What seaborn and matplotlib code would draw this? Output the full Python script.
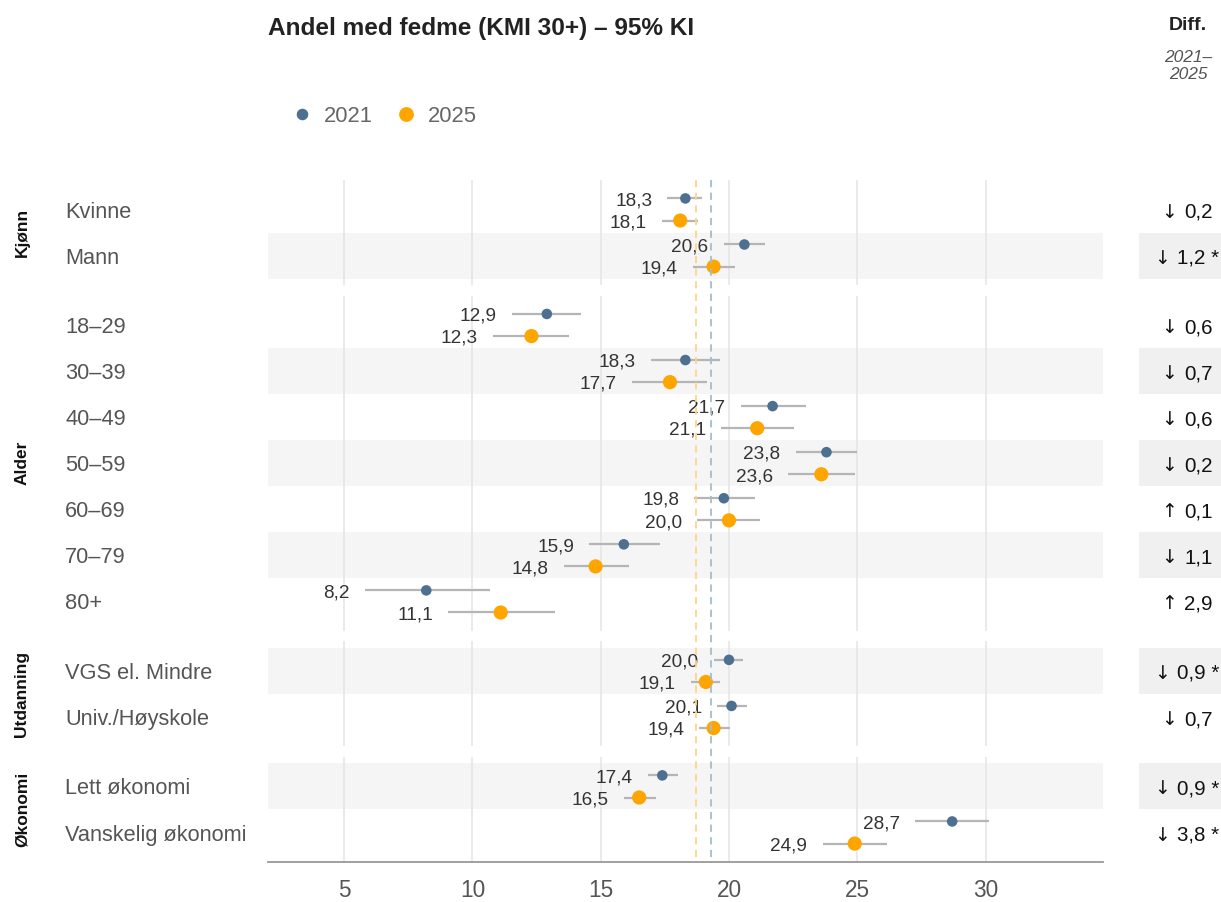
import numpy as np
import pandas as pd
import matplotlib
matplotlib.use("Agg")
import matplotlib.pyplot as plt
import matplotlib.transforms as mtransforms
from matplotlib.lines import Line2D
from matplotlib.patches import Rectangle
import seaborn as sns

# data
groups = ["Kjønn", "Alder", "Utdanning", "Økonomi"]
group_sizes = [2, 7, 2, 2]
categories = ["Kvinne", "Mann",
              "18–29", "30–39", "40–49", "50–59", "60–69", "70–79", "80+",
              "VGS el. Mindre", "Univ./Høyskole",
              "Lett økonomi", "Vanskelig økonomi"]

est_2021 = [18.3, 20.6, 12.9, 18.3, 21.7, 23.8, 19.8, 15.9, 8.2, 20.0, 20.1, 17.4, 28.7]
lo_2021 = [17.6, 19.8, 11.55, 16.95, 20.45, 22.6, 18.65, 14.55, 5.8, 19.4, 19.55, 16.85, 27.25]
hi_2021 = [18.95, 21.4, 14.25, 19.65, 23.0, 25.0, 21.0, 17.3, 10.7, 20.55, 20.7, 18.0, 30.15]

est_2025 = [18.1, 19.4, 12.3, 17.7, 21.1, 23.6, 20.0, 14.8, 11.1, 19.1, 19.4, 16.5, 24.9]
lo_2025 = [17.4, 18.6, 10.8, 16.2, 19.7, 22.3, 18.75, 13.55, 9.05, 18.5, 18.85, 15.9, 23.65]
hi_2025 = [18.8, 20.25, 13.75, 19.15, 22.55, 24.9, 21.2, 16.1, 13.2, 19.65, 20.05, 17.15, 26.15]

diff = [-0.2, -1.2, -0.6, -0.7, -0.6, -0.2, 0.1, -1.1, 2.9, -0.9, -0.7, -0.9, -3.8]
significant = [False, True, False, False, False, False, False, False, False, True, False, True, True]

mean_2021 = 19.3
mean_2025 = 18.7

x_ticks = [5, 10, 15, 20, 25, 30]

c2021 = "#4E7090"
c2025 = "#FFA500"

# long format table
rows = []
start = 0
for g, n in zip(groups, group_sizes):
    for k in range(n):
        i = start + k
        rows.append(dict(group=g, label=categories[i], idx=i, pos=k, year="2021",
                         value=est_2021[i], lo=lo_2021[i], hi=hi_2021[i], y=k - 0.24))
        rows.append(dict(group=g, label=categories[i], idx=i, pos=k, year="2025",
                         value=est_2025[i], lo=lo_2025[i], hi=hi_2025[i], y=k + 0.24))
    start += n
df = pd.DataFrame(rows)

sns.set_style("white")
plt.rcParams["font.family"] = ["Liberation Sans", "DejaVu Sans"]

W, H = 1221, 902
fig = plt.figure(figsize=(W / 100, H / 100), dpi=100)
renderer = fig.canvas.get_renderer()

pad = 0.14
ratios = [n + 2 * pad for n in group_sizes]
top_px, bot_px, gap_px = 180, 862, 10.5
avg_h = (bot_px - top_px - 3 * gap_px) / 4
gs = fig.add_gridspec(4, 1, height_ratios=ratios, left=268 / W, right=1103 / W,
                      top=1 - top_px / H, bottom=1 - bot_px / H, hspace=gap_px / avg_h)

axes = []
for gi, (g, n) in enumerate(zip(groups, group_sizes)):
    ax = fig.add_subplot(gs[gi], sharex=axes[0] if axes else None)
    axes.append(ax)
    sub = df[df.group == g]
    ax.set_ylim(n - 0.5 + pad, -0.5 - pad)
    ax.set_xlim(2.03, 34.58)
    blend = mtransforms.blended_transform_factory(fig.transFigure, ax.transData)

    # striped rows
    for _, r in sub[sub.year == "2021"].iterrows():
        if r["idx"] % 2 == 1:
            ax.axhspan(r["pos"] - 0.5, r["pos"] + 0.5, color="#f5f5f5", zorder=0.2, lw=0)
            ax.add_patch(Rectangle((1139 / W, r["pos"] - 0.5), 1 - 1139 / W, 1.0,
                                   transform=blend, color="#f0f0f0", lw=0,
                                   clip_on=False, zorder=0.2))

    # CI lines
    ax.hlines(sub["y"], sub["lo"], sub["hi"], color="#b5b5b5", lw=1.6, zorder=2)

    sns.scatterplot(data=sub, x="value", y="y", hue="year", size="year",
                    palette={"2021": c2021, "2025": c2025},
                    sizes={"2021": 58, "2025": 105}, edgecolor="none",
                    legend=False, ax=ax, zorder=3)

    # value labels
    for _, r in sub.iterrows():
        ax.annotate(f"{r['value']:.1f}".replace(".", ","), (r["lo"], r["y"]),
                    xytext=(-11, -1.6), textcoords="offset points",
                    ha="right", va="center", fontsize=13.7, color="#333333")

    # category labels and diff column
    for _, r in sub[sub.year == "2021"].iterrows():
        yy = r["pos"] + 0.055
        ax.text(65 / W, yy, r["label"], transform=blend, ha="left", va="center",
                fontsize=15.7, color="#555555")
        d = diff[r["idx"]]
        arrow = "↓" if d < 0 else "↑"
        num = f"{abs(d):.1f}".replace(".", ",")
        if significant[r["idx"]]:
            num += " *"
        t_arr = ax.text(0, yy, arrow, transform=blend, ha="left", va="center",
                        fontsize=13.5, color="#111111", family=["DejaVu Sans"])
        t_num = ax.text(0, yy, num, transform=blend, ha="left", va="center",
                        fontsize=14.8, color="#111111")
        w_arr = t_arr.get_window_extent(renderer).width
        w_num = t_num.get_window_extent(renderer).width
        x0 = 1187 - (w_arr + 7 + w_num) / 2
        t_arr.set_x(x0 / W)
        t_num.set_x((x0 + w_arr + 7) / W)

    ax.text(22 / W, (n - 1) / 2, g, transform=blend, rotation=90, ha="center",
            va="center", fontsize=12.5, fontweight="bold", color="#111111")

    ax.set_xticks(x_ticks)
    ax.set_yticks([])
    ax.set_xlabel("")
    ax.set_ylabel("")
    ax.xaxis.grid(True, color="#e6e6e6", lw=1.2)
    ax.set_axisbelow(True)
    for s in ["top", "left", "right", "bottom"]:
        ax.spines[s].set_visible(False)
    ax.tick_params(axis="x", length=0, labelbottom=False)

last = axes[-1]
last.spines["bottom"].set_visible(True)
last.spines["bottom"].set_color("#999999")
last.spines["bottom"].set_linewidth(1.3)
last.tick_params(axis="x", length=6, width=1, color="#777777", labelbottom=True,
                 labelsize=16.3, labelcolor="#555555", pad=6)

# mean lines, continuous through the panel gaps
vblend = mtransforms.blended_transform_factory(axes[0].transData, fig.transFigure)
for m, col in [(mean_2025, "#FFD48A"), (mean_2021, "#A7BCCD")]:
    fig.add_artist(Line2D([m, m], [1 - top_px / H, 1 - bot_px / H], transform=vblend,
                          color=col, ls=(0, (4, 3)), lw=1.3, zorder=1.5))

# title, header, legend
fig.text(268 / W, 1 - 28 / H, "Andel med fedme (KMI 30+) – 95% KI", ha="left",
         va="center", fontsize=17.6, fontweight="bold", color="#222222")
fig.text(1188 / W, 1 - 26 / H, "Diff.", ha="center", va="center", fontsize=14,
         fontweight="bold", color="#222222")
fig.text(1188 / W, 1 - 66 / H, "2021–\n2025", ha="center", va="center", fontsize=12.5,
         style="italic", color="#555555", linespacing=1.12)

handles = [Line2D([], [], marker="o", ls="", color=c2021, markersize=7.3),
           Line2D([], [], marker="o", ls="", color=c2025, markersize=9.6)]
fig.legend(handles, ["2021", "2025"], loc="center left",
           bbox_to_anchor=(291 / W, 1 - 116 / H), ncol=2, frameon=False,
           fontsize=15.8, labelcolor="#666666", handlelength=1.0,
           handletextpad=0.48, columnspacing=1.05, borderpad=0, borderaxespad=0)

fig.savefig("out.png", dpi=100)
